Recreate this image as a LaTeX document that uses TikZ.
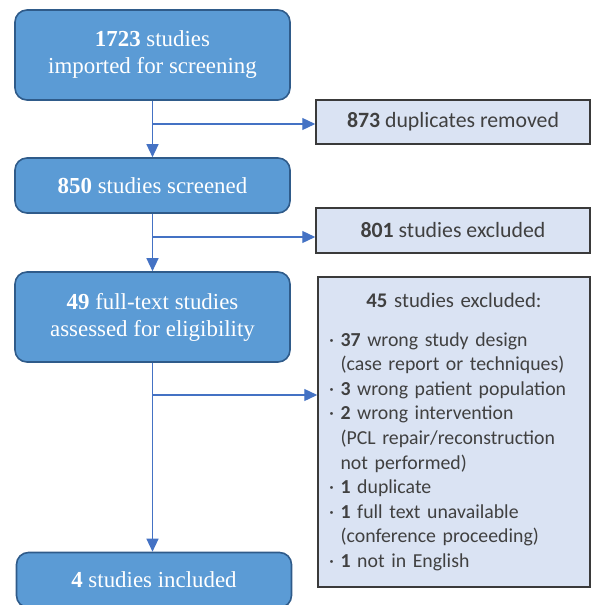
\documentclass[tikz,border=0pt]{standalone}
\usepackage{fontspec}
\setmainfont{Liberation Serif}
\newfontfamily\carlito{Carlito}
\usetikzlibrary{arrows.meta}
\definecolor{boxblue}{HTML}{5B9BD5}
\definecolor{boxedge}{HTML}{2F5B8A}
\definecolor{paleblue}{HTML}{DAE3F3}
\definecolor{flowblue}{HTML}{4472C4}
\definecolor{textgrey}{HTML}{404040}
\definecolor{greyedge}{HTML}{3A3A3A}

\begin{document}
\begin{tikzpicture}[x=1pt,y=-1pt]
		\tikzset{> = {Triangle[length=13pt,width=12pt]}}
		\tikzset{stage/.style = {draw = boxedge, fill = boxblue, line width = 1.6pt, rounded corners = 12pt, text = white, align = center, minimum width = 275pt, font = \fontsize{22.9}{27}\selectfont}}
		\tikzset{excl/.style = {draw = greyedge, fill = paleblue, line width = 1.5pt, text = textgrey, minimum width = 274pt, font = \carlito\fontsize{21.8}{24.8}\selectfont}}
		\tikzset{flow/.style = {flowblue, line width = 1.3pt}}
		\useasboundingbox (0,0) rectangle (592,605);
		% left column
		\node[stage, minimum height = 90pt] (imp) at (152.5,55) {\textbf{1723} studies\\imported for screening};
		\node[stage, minimum height = 55pt] (scr) at (152.5,185.5) {\textbf{850} studies screened};
		\node[stage, minimum height = 90pt] (ass) at (152.5,317) {\textbf{49} full-text studies\\assessed for eligibility};
		\node[stage, minimum height = 55pt] (inc) at (154,580) {\textbf{4} studies included};
		% right column
		\node[excl, minimum height = 44pt] (dup) at (453,122) {\textbf{873} duplicates removed};
		\node[excl, minimum height = 45pt] (exa) at (453,230.5) {\textbf{801} studies excluded};
		\node[excl, minimum width = 272pt, minimum height = 310pt, align = left, text width = 250pt, font = \carlito\fontsize{19.8}{24.6}\selectfont] (exb) at (454,432) {\makebox[250pt]{\fontsize{20.8}{24.6}\selectfont\textbf{45} studies excluded:}\\[14pt]
			· \textbf{37} wrong study design\\
			\phantom{· }(case report or techniques)\\
			· \textbf{3} wrong patient population\\
			· \textbf{2} wrong intervention\\
			\phantom{· }(PCL repair/reconstruction\\
			\phantom{· }not performed)\\
			· \textbf{1} duplicate\\
			· \textbf{1} full text unavailable\\
			\phantom{· }(conference proceeding)\\
			· \textbf{1} not in English};
		% branch points
		\coordinate (j1) at (152.5,124);
		\coordinate (j2) at (152.5,237);
		\coordinate (j3) at (152.5,395);
		% connectors
		\draw[flow, ->] (imp) -- (scr);
		\draw[flow, ->] (scr) -- (ass);
		\draw[flow, ->] (ass.south) -- (ass.south |- inc.north);
		\draw[flow, ->] (j1) -- (j1 -| dup.west);
		\draw[flow, ->] (j2) -- (j2 -| exa.west);
		\draw[flow, ->] (j3) -- (j3 -| exb.west);
	\end{tikzpicture}
\end{document}
